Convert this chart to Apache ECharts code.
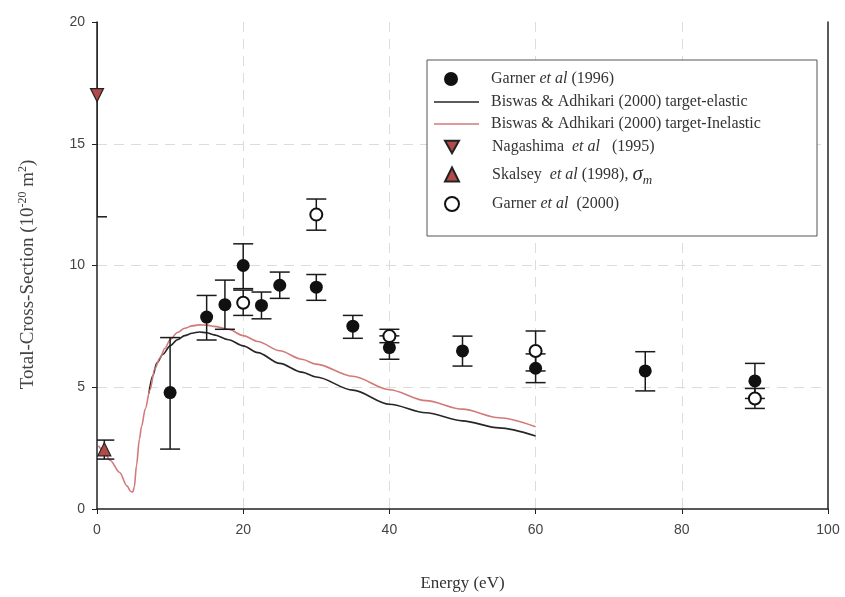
<!DOCTYPE html>
<html>
<head>
<meta charset="utf-8">
<script src="https://cdn.jsdelivr.net/npm/echarts@6/dist/echarts.min.js"></script>
<style>
  html, body { margin: 0; padding: 0; background: #fff; }
  #chart { width: 845px; height: 597px; }
</style>
</head>
<body>
<div id="chart"></div>
<script>
// Axis ticks
const xTicks = [0, 20, 40, 60, 80, 100];
const yTicks = [0, 5, 10, 15, 20];

// Garner et al (1996): energy (eV), cross-section, error-bar limits
const garner96Energy = [10, 15, 17.5, 20, 22.5, 25, 30, 35, 40, 50, 60, 75, 90];
const garner96Sigma  = [4.78, 7.88, 8.39, 10.0, 8.36, 9.19, 9.11, 7.51, 6.63, 6.49, 5.78, 5.67, 5.26];
const garner96Low    = [2.46, 6.94, 7.38, 9.05, 7.81, 8.65, 8.57, 7.01, 6.15, 5.87, 5.19, 4.85, 4.54];
const garner96High   = [7.04, 8.77, 9.40, 10.89, 8.91, 9.73, 9.63, 7.95, 7.11, 7.10, 6.37, 6.46, 5.98];

// Garner et al (2000)
const garner00Energy = [20, 30, 40, 60, 90];
const garner00Sigma  = [8.47, 12.09, 7.10, 6.49, 4.54];
const garner00Low    = [7.95, 11.45, 6.83, 5.67, 4.13];
const garner00High   = [8.99, 12.73, 7.38, 7.31, 4.95];

// Nagashima et al (1995)
const nagashimaEnergy = [0];
const nagashimaSigma  = [17];
const nagashimaLow    = [12];
const nagashimaHigh   = [22];

// Skalsey et al (1998), sigma_m
const skalseyEnergy = [1];
const skalseySigma  = [2.45];
const skalseyLow    = [2.05];
const skalseyHigh   = [2.83];

// Biswas & Adhikari (2000) target-elastic
const elasticEnergy = [7.1, 7.6, 8.2, 9, 10, 11, 12, 13, 14, 15, 16, 18, 20, 22, 25, 28, 30, 35, 40, 45, 50, 55, 60];
const elasticSigma  = [4.75, 5.45, 6.0, 6.35, 6.7, 6.95, 7.12, 7.22, 7.27, 7.24, 7.15, 6.95, 6.7, 6.42, 5.98, 5.62, 5.42, 4.88, 4.3, 3.95, 3.62, 3.33, 3.0];

// Biswas & Adhikari (2000) target-inelastic
const inelasticEnergy = [0.2, 1, 1.8, 3.1, 4.1, 4.6, 4.9, 5.1, 5.4, 5.8, 6.1, 6.6, 7.25, 7.9, 8.6, 9.3, 10, 11, 12, 13, 14, 15, 16, 18, 20, 22, 25, 28, 30, 35, 40, 45, 50, 55, 60];
const inelasticSigma  = [2.6, 2.35, 2.0, 1.5, 0.95, 0.72, 0.7, 0.9, 1.78, 2.87, 3.4, 4.1, 4.9, 5.75, 6.2, 6.6, 6.95, 7.25, 7.42, 7.52, 7.56, 7.55, 7.5, 7.38, 7.12, 6.88, 6.5, 6.15, 5.95, 5.45, 4.9, 4.45, 4.1, 3.75, 3.38];

const pairs = (xs, ys) => xs.map((x, i) => [x, ys[i]]);
const bars = (xs, lo, hi) => xs.map((x, i) => [x, lo[i], hi[i]]);

const SERIF = '"Liberation Serif", "Times New Roman", serif';
const SANS = '"Liberation Sans", Arial, sans-serif';
const INK = '#1a1a1a';
const TRI_FILL = '#b24a4a';
const ELASTIC_COLOR = '#262626';
const INELASTIC_COLOR = '#d27a7a';
const DOWN_TRIANGLE = 'path://M0,0L20,0L10,18Z';

function renderErrorBar(params, api) {
  const x = api.value(0);
  const lo = api.coord([x, api.value(1)]);
  const hi = api.coord([x, api.value(2)]);
  const w = 10;
  const style = { stroke: INK, lineWidth: 1.5 };
  return {
    type: 'group',
    children: [
      { type: 'line', shape: { x1: lo[0], y1: lo[1], x2: hi[0], y2: hi[1] }, style },
      { type: 'line', shape: { x1: lo[0] - w, y1: lo[1], x2: lo[0] + w, y2: lo[1] }, style },
      { type: 'line', shape: { x1: hi[0] - w, y1: hi[1], x2: hi[0] + w, y2: hi[1] }, style }
    ]
  };
}

function errorSeries(data) {
  return {
    type: 'custom',
    renderItem: renderErrorBar,
    data: data,
    encode: { x: 0, y: [1, 2] },
    clip: true,
    silent: true,
    z: 3
  };
}

const N_G96 = 'Garner et al (1996)';
const N_EL = 'Biswas & Adhikari (2000) target-elastic';
const N_IN = 'Biswas & Adhikari (2000) target-Inelastic';
const N_NAG = 'Nagashima et al (1995)';
const N_SKA = 'Skalsey et al (1998)';
const N_G00 = 'Garner et al (2000)';

const legendLabels = {};
legendLabels[N_G96] = '{t|Garner }{i|et al}{t| (1996)}';
legendLabels[N_EL] = '{t|Biswas & Adhikari (2000) target-elastic}';
legendLabels[N_IN] = '{t|Biswas & Adhikari (2000) target-Inelastic}';
legendLabels[N_NAG] = '{t|Nagashima  }{i|et al}{t|   (1995)}';
legendLabels[N_SKA] = '{t|Skalsey  }{i|et al}{t| (1998), }{sig|σ}{sub|m}';
legendLabels[N_G00] = '{t|Garner }{i|et al}{t|  (2000)}';

const legendRich = {
  t: { fontFamily: SERIF, fontSize: 16, color: '#333' },
  i: { fontFamily: SERIF, fontSize: 16, color: '#333', fontStyle: 'italic' },
  sig: { fontFamily: SERIF, fontSize: 21, color: '#333', fontStyle: 'italic' },
  sub: { fontFamily: SERIF, fontSize: 13, color: '#333', fontStyle: 'italic', padding: [12, 0, 0, 0] }
};

const TEXT_START = 491;

function markerLegend(name, rowY, icon) {
  const iw = 14;
  const left = 444;
  return {
    data: [icon ? { name: name, icon: icon } : name],
    left: left,
    top: rowY - 9,
    orient: 'vertical',
    padding: 0,
    itemWidth: iw,
    itemHeight: 14,
    selectedMode: false,
    formatter: function (n) { return '{gap|}' + legendLabels[n]; },
    textStyle: { rich: Object.assign({ gap: { width: TEXT_START - (left + iw + 5) } }, legendRich) },
    z: 20
  };
}

// Line entries: a thin rect in the series colour stands in for the line sample
function lineLegend(name, rowY, color) {
  const iw = 45;
  const left = 434;
  return {
    data: [{ name: name, icon: 'rect' }],
    left: left,
    top: rowY - 9,
    orient: 'vertical',
    padding: 0,
    itemWidth: iw,
    itemHeight: 1.6,
    symbolKeepAspect: false,
    selectedMode: false,
    itemStyle: { color: color, borderWidth: 0, opacity: 1 },
    formatter: function (n) { return '{gap|}' + legendLabels[n]; },
    textStyle: { rich: Object.assign({ gap: { width: TEXT_START - (left + iw + 5) } }, legendRich) },
    z: 20
  };
}

const chart = echarts.init(document.getElementById('chart'), null, { renderer: 'canvas' });

const option = {
  animation: false,
  backgroundColor: '#ffffff',
  grid: { left: 97, right: 17, top: 22, bottom: 87, containLabel: false },
  xAxis: {
    type: 'value',
    min: xTicks[0],
    max: xTicks[xTicks.length - 1],
    interval: 20,
    name: 'Energy (eV)',
    nameLocation: 'middle',
    nameGap: 66,
    nameTextStyle: { fontFamily: SERIF, fontSize: 17, color: '#333' },
    axisLine: { lineStyle: { color: '#222', width: 1.5 } },
    axisTick: { show: true, inside: false, length: 5, lineStyle: { color: '#222' } },
    axisLabel: { margin: 14, fontFamily: SANS, fontSize: 14, color: '#444' },
    splitLine: {
      show: true, showMinLine: false, showMaxLine: false,
      lineStyle: { color: '#dcdcdc', type: [10, 7], width: 1 }
    }
  },
  yAxis: [
    {
      type: 'value',
      min: yTicks[0],
      max: yTicks[yTicks.length - 1],
      interval: 5,
      name: '{t|Total-Cross-Section (10}{s|-20}{t| m}{s|2}{t|)}',
      nameLocation: 'middle',
      nameGap: 58,
      nameTextStyle: {
        padding: [0, 18, 0, 0],
        rich: {
          t: { fontFamily: SERIF, fontSize: 19, color: '#444' },
          s: { fontFamily: SERIF, fontSize: 12, color: '#444', padding: [0, 0, 10, 0] }
        }
      },
      axisLine: { show: true, lineStyle: { color: '#222', width: 1.5 } },
      axisTick: { show: true, inside: false, length: 5, lineStyle: { color: '#222' } },
      axisLabel: { margin: 12, fontFamily: SANS, fontSize: 14, color: '#444' },
      splitLine: {
        show: true, showMinLine: false, showMaxLine: false,
        lineStyle: { color: '#dcdcdc', type: [10, 7], width: 1 }
      }
    },
    {
      type: 'value',
      position: 'right',
      min: 0,
      max: 20,
      interval: 5,
      axisLine: { show: true, lineStyle: { color: '#222', width: 1.5 } },
      axisTick: { show: false },
      axisLabel: { show: false },
      splitLine: { show: false }
    }
  ],
  legend: [
    markerLegend(N_G96, 80),
    lineLegend(N_EL, 103, ELASTIC_COLOR),
    lineLegend(N_IN, 125, INELASTIC_COLOR),
    markerLegend(N_NAG, 148, DOWN_TRIANGLE),
    markerLegend(N_SKA, 173),
    markerLegend(N_G00, 205)
  ],
  graphic: [
    {
      type: 'rect',
      shape: { x: 427, y: 60, width: 390, height: 176 },
      style: { fill: '#ffffff', stroke: '#555', lineWidth: 1 },
      z: 10
    }
  ],
  series: [
    {
      name: N_EL,
      type: 'line',
      data: pairs(elasticEnergy, elasticSigma),
      symbol: 'none',
      smooth: 0.3,
      smoothMonotone: 'x',
      lineStyle: { color: ELASTIC_COLOR, width: 1.6 },
      itemStyle: { color: ELASTIC_COLOR },
      z: 2
    },
    {
      name: N_IN,
      type: 'line',
      data: pairs(inelasticEnergy, inelasticSigma),
      symbol: 'none',
      smooth: 0.3,
      smoothMonotone: 'x',
      lineStyle: { color: INELASTIC_COLOR, width: 1.6 },
      itemStyle: { color: INELASTIC_COLOR },
      z: 2
    },
    errorSeries(bars(garner96Energy, garner96Low, garner96High)),
    errorSeries(bars(garner00Energy, garner00Low, garner00High)),
    errorSeries(bars(nagashimaEnergy, nagashimaLow, nagashimaHigh)),
    errorSeries(bars(skalseyEnergy, skalseyLow, skalseyHigh)),
    {
      name: N_G96,
      type: 'scatter',
      data: pairs(garner96Energy, garner96Sigma),
      symbol: 'circle',
      symbolSize: 13,
      itemStyle: { color: '#111', opacity: 1 },
      z: 5
    },
    {
      name: N_G00,
      type: 'scatter',
      data: pairs(garner00Energy, garner00Sigma),
      symbol: 'circle',
      symbolSize: 12,
      itemStyle: { color: '#ffffff', borderColor: '#111', borderWidth: 2, opacity: 1 },
      z: 5
    },
    {
      name: N_NAG,
      type: 'scatter',
      data: pairs(nagashimaEnergy, nagashimaSigma),
      symbol: 'triangle',
      symbolRotate: 180,
      symbolSize: 13,
      clip: false,
      itemStyle: { color: TRI_FILL, borderColor: '#222', borderWidth: 1.2, opacity: 1 },
      z: 6
    },
    {
      name: N_SKA,
      type: 'scatter',
      data: pairs(skalseyEnergy, skalseySigma),
      symbol: 'triangle',
      symbolSize: 13,
      clip: false,
      itemStyle: { color: TRI_FILL, borderColor: '#222', borderWidth: 1.2, opacity: 1 },
      z: 6
    }
  ]
};

chart.setOption(option);
</script>
</body>
</html>
